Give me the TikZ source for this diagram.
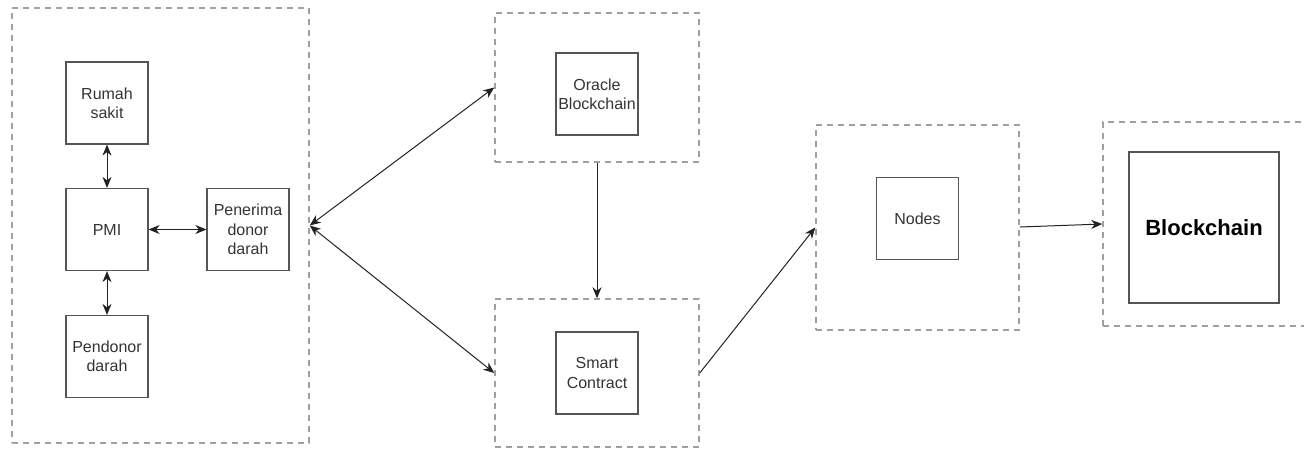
\documentclass[tikz,border=0pt]{standalone}
\usepackage{fontspec}
\setmainfont{Liberation Sans}
\usetikzlibrary{arrows.meta}
\definecolor{txtgray}{HTML}{333333}
\definecolor{boxgray}{HTML}{555555}
\definecolor{dashgray}{HTML}{A0A0A0}
\definecolor{linegray}{HTML}{222222}
\begin{document}
\begin{tikzpicture}[x=1pt,y=-1pt,
  group/.style={draw=dashgray, line width=1.5pt, dash pattern=on 6pt off 5pt,
    rectangle, inner sep=0pt},
  unit/.style={draw=boxgray, line width=1.2pt, rectangle, inner sep=0pt,
    minimum width=82pt, minimum height=82pt, align=center,
    font=\fontsize{16}{19.3}\selectfont, text=txtgray},
  tip/.style={Stealth[length=11pt,width=9pt,inset=3.5pt]},
  link/.style={draw=linegray, line width=1pt, -{Stealth[length=11pt,width=9pt,inset=3.5pt]}},
  dlink/.style={draw=linegray, line width=1pt,
    {Stealth[length=11pt,width=9pt,inset=3.5pt]}-{Stealth[length=11pt,width=9pt,inset=3.5pt]}}
]
\path[use as bounding box, clip] (0,0) rectangle (1304,448);

% dashed groups
\node[group, minimum width=297pt, minimum height=435pt] (actors) at (160.5,225.5) {};
\node[group, minimum width=204pt, minimum height=149pt] (oracleg) at (597,87.5) {};
\node[group, minimum width=204pt, minimum height=148pt] (smartg) at (597,373) {};
\node[group, minimum width=203pt, minimum height=205pt] (nodesg) at (917.5,227.5) {};
\node[group, minimum width=217pt, minimum height=204pt] (chaing) at (1211.5,224) {};

% actors
\node[unit] (rs) at (107,103) {Rumah\\sakit};
\node[unit] (pmi) at (107,229.5) {PMI};
\node[unit] (pd) at (107,356.5) {Pendonor\\darah};
\node[unit] (pn) at (248,229.5) {Penerima\\donor\\darah};

% system components
\node[unit] (oracle) at (597,94) {Oracle\\Blockchain};
\node[unit] (smart) at (597,373) {Smart\\Contract};
\node[unit] (nodes) at (917.5,218.5) {Nodes};
\node[unit, minimum width=150pt, minimum height=151pt,
  font=\fontsize{22}{26}\selectfont\bfseries, text=black] (chain) at (1204,227.5) {Blockchain};

% connectors inside the actor group
\draw[dlink] (rs.south) -- (pmi.north);
\draw[dlink] (pmi.south) -- (pd.north);
\draw[dlink] (pmi.east) -- (pn.west);

% connectors between groups
\draw[dlink] (actors.east) -- (oracleg.west);
\draw[dlink] (actors.east) -- (smartg.west);
\draw[link] (oracleg.south) -- (smartg.north);
\draw[link] (smartg.east) -- (nodesg.west);
\draw[link] ([yshift=0.5pt]nodesg.east) -- (chaing.west);
\end{tikzpicture}
\end{document}
